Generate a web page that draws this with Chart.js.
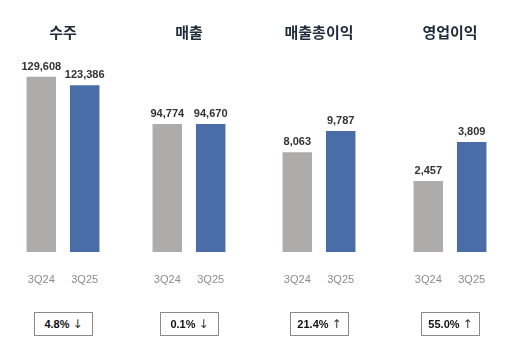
<!DOCTYPE html>
<html>
<head>
<meta charset="utf-8">
<script src="https://cdn.jsdelivr.net/npm/chart.js@4"></script>
<style>
  body { margin: 0; background: #fff; }
  #wrap { position: relative; width: 512px; height: 340px; overflow: hidden; font-family: "Liberation Sans", Arial, sans-serif; }
  .panel { position: absolute; top: 0; width: 120px; height: 340px; }
  .panel canvas { position: absolute; left: 0; top: 0; }
  .titulo { position: absolute; top: 21px; left: -20px; width: 160px; text-align: center;
            font: bold 15px "Noto Sans CJK KR", sans-serif; color: #1f2a3a; }
  .caja { position: absolute; top: 312px; height: 22px; width: 57px; border: 1px solid #8a8a8a;
          font: bold 11px "Liberation Sans", Arial, sans-serif; color: #111; text-align: center; line-height: 22px; }
  .caja span { font: normal 12px "DejaVu Sans", sans-serif; color: #333; }
</style>
</head>
<body>
<div id="wrap"></div>
<script>
const periodos = ["3Q24", "3Q25"];
const titulos = ["수주", "매출", "매출총이익", "영업이익"];
const valores24 = [129608, 94774, 8063, 2457];
const valores25 = [123386, 94670, 9787, 3809];
const cambios = ["4.8%", "0.1%", "21.4%", "55.0%"];
const flechas = ["↓", "↓", "↑", "↑"];
const maximos = [148000, 148000, 16180, 6925];
const centros = [63, 189, 319, 450];

const colores = ["#aeabab", "#4a6da7"];

const etiquetas = {
  id: "etiquetas",
  afterDatasetsDraw(chart) {
    const ctx = chart.ctx;
    const meta = chart.getDatasetMeta(0);
    ctx.save();
    ctx.font = "bold 11px 'Liberation Sans', Arial, sans-serif";
    ctx.fillStyle = "#333";
    ctx.textAlign = "center";
    ctx.textBaseline = "middle";
    meta.data.forEach((bar, i) => {
      const v = chart.data.datasets[0].data[i];
      ctx.fillText(v.toLocaleString("en-US"), bar.x, bar.y - 10);
    });
    ctx.restore();
  }
};

const wrap = document.getElementById("wrap");

titulos.forEach((t, i) => {
  const panel = document.createElement("div");
  panel.className = "panel";
  panel.style.left = (centros[i] - 60) + "px";

  const canvas = document.createElement("canvas");
  canvas.width = 120;
  canvas.height = 300;
  canvas.style.width = "120px";
  canvas.style.height = "300px";
  panel.appendChild(canvas);

  const titulo = document.createElement("div");
  titulo.className = "titulo";
  titulo.textContent = t;
  panel.appendChild(titulo);

  const caja = document.createElement("div");
  caja.className = "caja";
  caja.style.left = "31px";
  caja.innerHTML = cambios[i] + " <span>" + flechas[i] + "</span>";
  panel.appendChild(caja);

  wrap.appendChild(panel);

  new Chart(canvas.getContext("2d"), {
    type: "bar",
    data: {
      labels: periodos,
      datasets: [{
        data: [valores24[i], valores25[i]],
        backgroundColor: colores,
        barPercentage: 0.68,
        categoryPercentage: 1
      }]
    },
    options: {
      responsive: false,
      animation: false,
      layout: { padding: { top: 52, bottom: 8, left: 16, right: 16 } },
      plugins: { legend: { display: false }, tooltip: { enabled: false } },
      scales: {
        x: {
          grid: { display: false, drawTicks: false },
          border: { display: false },
          ticks: { color: "#8c8c8c", font: { size: 11, family: "'Liberation Sans', Arial, sans-serif" }, padding: 21 },
          afterFit: s => { s.height = 40; }
        },
        y: { display: false, min: 0, max: maximos[i] }
      }
    },
    plugins: [etiquetas]
  });
});
</script>
</body>
</html>
